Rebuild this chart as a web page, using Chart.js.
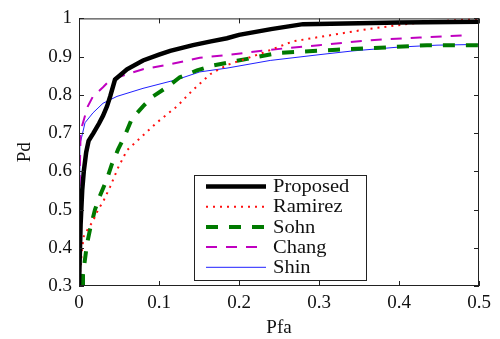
<!DOCTYPE html>
<html>
<head>
<meta charset="utf-8">
<script src="https://cdn.jsdelivr.net/npm/chart.js@4"></script>
<style>
  html, body { margin: 0; padding: 0; background: #fff; }
  #wrap { width: 500px; height: 339px; }
</style>
</head>
<body>
<div id="wrap"><canvas id="roc"></canvas></div>
<script>
// ROC curves, Pfa on x, Pd on y
const xTicks = [0, 0.1, 0.2, 0.3, 0.4, 0.5];
const yTicks = [0.3, 0.4, 0.5, 0.6, 0.7, 0.8, 0.9, 1];

const proposedX = [0, 0.002, 0.004, 0.006, 0.009, 0.012, 0.018, 0.025, 0.03, 0.035, 0.039, 0.045, 0.06, 0.08, 0.1, 0.114, 0.1425, 0.165, 0.185, 0.2, 0.24, 0.28, 0.35, 0.4, 0.5];
const proposedY = [0.3, 0.46, 0.55, 0.6, 0.65, 0.68, 0.7, 0.725, 0.745, 0.77, 0.796, 0.84, 0.867, 0.89, 0.905, 0.915, 0.93, 0.94, 0.948, 0.957, 0.972, 0.985, 0.987, 0.989, 0.991];

const ramirezX = [0, 0.002, 0.004, 0.006, 0.01, 0.0175, 0.024, 0.03, 0.039, 0.049, 0.06, 0.076, 0.097, 0.1225, 0.1425, 0.164, 0.185, 0.205, 0.23, 0.2675, 0.314, 0.364, 0.414, 0.435, 0.5];
const ramirezY = [0.3, 0.35, 0.4, 0.43, 0.445, 0.47, 0.5, 0.52, 0.56, 0.61, 0.655, 0.686, 0.727, 0.77, 0.813, 0.854, 0.878, 0.892, 0.91, 0.94, 0.956, 0.973, 0.986, 0.991, 0.999];

const sohnX = [0.005, 0.005, 0.01, 0.014, 0.02, 0.026, 0.035, 0.041, 0.049, 0.0575, 0.066, 0.08, 0.0925, 0.11, 0.126, 0.1475, 0.1675, 0.1975, 0.25, 0.3225, 0.376, 0.435, 0.5];
const sohnY = [0.3, 0.33, 0.41, 0.45, 0.5, 0.535, 0.58, 0.618, 0.658, 0.694, 0.737, 0.77, 0.796, 0.82, 0.846, 0.864, 0.877, 0.889, 0.91, 0.918, 0.923, 0.93, 0.93];

const changX = [0, 0.001, 0.002, 0.004, 0.011, 0.0175, 0.03, 0.039, 0.06, 0.08, 0.114, 0.151, 0.189, 0.239, 0.3, 0.364, 0.426, 0.485];
const changY = [0.3, 0.6, 0.7, 0.72, 0.77, 0.796, 0.82, 0.839, 0.854, 0.867, 0.88, 0.897, 0.905, 0.918, 0.93, 0.943, 0.95, 0.956];

const shinX = [0, 0.001, 0.004, 0.0075, 0.0175, 0.03, 0.0475, 0.08, 0.1225, 0.151, 0.185, 0.239, 0.3, 0.3425, 0.4, 0.4475, 0.5];
const shinY = [0.3, 0.67, 0.695, 0.727, 0.753, 0.778, 0.796, 0.817, 0.84, 0.86, 0.87, 0.89, 0.905, 0.915, 0.925, 0.93, 0.932];

const pairs = (xs, ys) => xs.map((x, i) => ({ x, y: ys[i] }));
const serif = "'Liberation Serif', 'DejaVu Serif', serif";

// MATLAB-like box with inward ticks and a boxed legend
const boxPlugin = {
  id: "box",
  afterDraw(chart) {
    const { ctx, chartArea: a, scales } = chart;
    ctx.save();
    ctx.strokeStyle = "#222";
    ctx.lineWidth = 1;
    ctx.strokeRect(a.left + 0.5, a.top + 0.5, a.right - a.left - 1, a.bottom - a.top - 1);
    const t = 5;
    ctx.beginPath();
    xTicks.forEach((v) => {
      const px = Math.round(scales.x.getPixelForValue(v)) + 0.5;
      ctx.moveTo(px, a.bottom); ctx.lineTo(px, a.bottom - t);
      ctx.moveTo(px, a.top); ctx.lineTo(px, a.top + t);
    });
    yTicks.forEach((v) => {
      const py = Math.round(scales.y.getPixelForValue(v)) + 0.5;
      ctx.moveTo(a.left, py); ctx.lineTo(a.left + t, py);
      ctx.moveTo(a.right, py); ctx.lineTo(a.right - t, py);
    });
    ctx.stroke();

    // legend
    const lx = 194, ly = 175, lw = 172, lh = 105;
    ctx.fillStyle = "#fff";
    ctx.fillRect(lx, ly, lw, lh);
    ctx.strokeStyle = "#222";
    ctx.strokeRect(lx + 0.5, ly + 0.5, lw, lh);
    ctx.font = "18px " + serif;
    ctx.textBaseline = "middle";
    chart.data.datasets.forEach((ds, i) => {
      const y = 186.5 + i * 20.2;
      ctx.strokeStyle = ds.borderColor;
      ctx.lineWidth = ds.borderWidth;
      ctx.setLineDash(ds.borderDash || []);
      ctx.beginPath();
      ctx.moveTo(206, y); ctx.lineTo(266, y);
      ctx.stroke();
      ctx.setLineDash([]);
      ctx.fillStyle = "#111";
      // text in the reference is a little wider than the font
      ctx.save();
      ctx.translate(273, y + 1);
      ctx.scale(1.14, 1);
      ctx.fillText(ds.label, 0, 0);
      ctx.restore();
    });
    ctx.restore();
  },
};

const mk = (label, xs, ys, color, width, dash) => ({
  label,
  data: pairs(xs, ys),
  borderColor: color,
  borderWidth: width,
  borderDash: dash,
  pointRadius: 0,
  fill: false,
  tension: 0,
});

new Chart(document.getElementById("roc"), {
  type: "line",
  data: {
    datasets: [
      mk("Proposed", proposedX, proposedY, "#000000", 4.5, []),
      mk("Ramirez", ramirezX, ramirezY, "#ff1010", 2, [2, 5]),
      mk("Sohn", sohnX, sohnY, "#007a00", 4, [12, 11]),
      mk("Chang", changX, changY, "#c000c0", 2, [11, 9]),
      mk("Shin", shinX, shinY, "#2020ff", 1, []),
    ],
  },
  options: {
    responsive: true,
    maintainAspectRatio: false,
    animation: false,
    layout: { padding: { left: 0, right: 21, top: 9, bottom: 0 } },
    plugins: { legend: { display: false }, tooltip: { enabled: false } },
    scales: {
      x: {
        type: "linear",
        min: 0,
        max: 0.5,
        afterBuildTicks: (s) => { s.ticks = xTicks.map((v) => ({ value: v })); },
        afterFit: (s) => { s.height = 53; },
        grid: { display: false, drawTicks: false },
        border: { display: false },
        ticks: {
          color: "#111",
          padding: 6,
          maxRotation: 0,
          font: { family: serif, size: 19 },
          callback: (v) => String(v),
        },
        title: {
          display: true,
          text: "Pfa",
          color: "#111",
          font: { family: serif, size: 19 },
          padding: { top: 4, bottom: 0 },
        },
      },
      y: {
        type: "linear",
        min: 0.3,
        max: 1,
        afterBuildTicks: (s) => { s.ticks = yTicks.map((v) => ({ value: v })); },
        afterFit: (s) => { s.width = 79; },
        grid: { display: false, drawTicks: false },
        border: { display: false },
        ticks: {
          color: "#111",
          padding: 7,
          font: { family: serif, size: 19 },
          callback: (v) => String(v),
        },
        title: {
          display: true,
          text: "Pd",
          color: "#111",
          font: { family: serif, size: 19 },
          padding: { top: 14, bottom: 0 },
        },
      },
    },
  },
  plugins: [boxPlugin],
});
</script>
</body>
</html>
